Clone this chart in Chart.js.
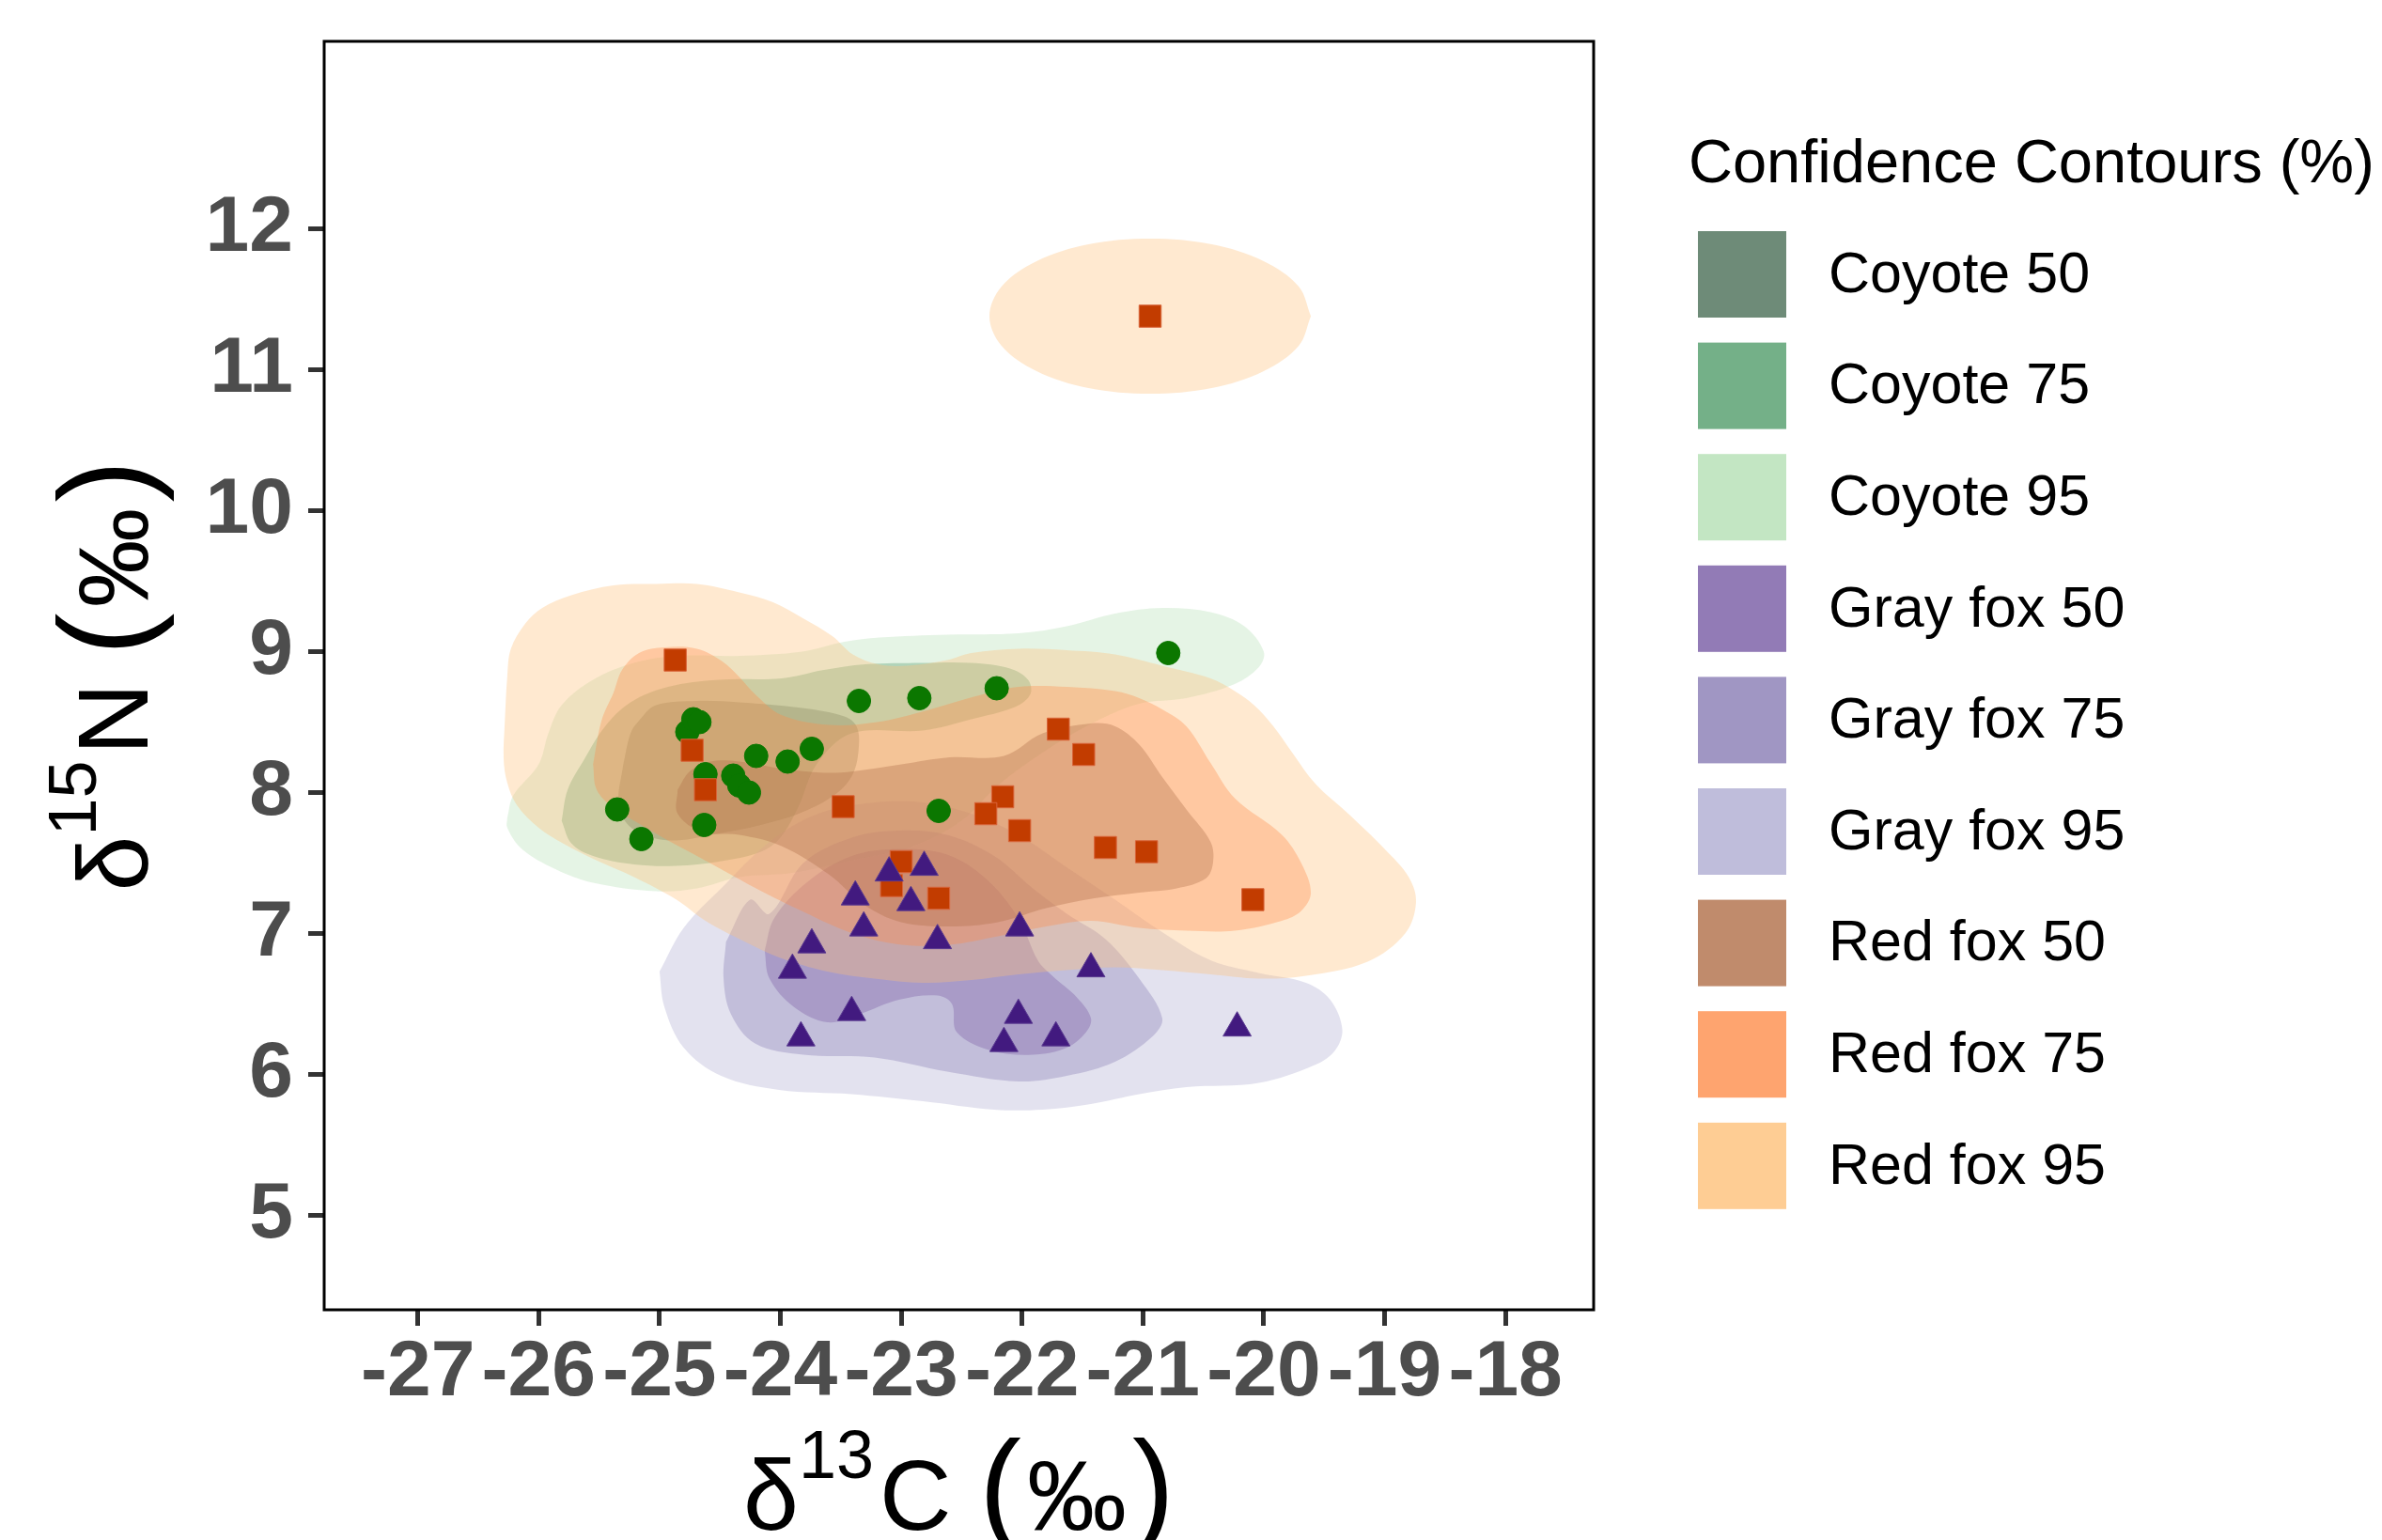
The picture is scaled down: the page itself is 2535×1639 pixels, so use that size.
<!DOCTYPE html>
<html><head><meta charset="utf-8">
<script src="https://cdn.jsdelivr.net/npm/chart.js@4/dist/chart.umd.min.js"></script>
<style>html,body{margin:0;padding:0;background:#fff;}#wrap{width:2535px;height:1639px;}</style>
</head><body><div id="wrap"><canvas id="c" width="2535" height="1639"></canvas></div>
<script>
const xTicks = [-27,-26,-25,-24,-23,-22,-21,-20,-19,-18];
const yTicks = [5,6,7,8,9,10,11,12];

const coyoteX = [-25.35,-25.15,-24.63,-24.77,-24.72,-24.67,-24.62,-24.39,-24.34,-24.26,-24.20,-23.94,-23.74,-23.35,-22.85,-22.69,-22.21,-20.79];
const coyoteY = [7.88,7.67,7.77,8.43,8.52,8.50,8.13,8.12,8.05,8.00,8.26,8.22,8.31,8.65,8.67,7.87,8.74,8.99];
const redX = [-24.87,-24.73,-24.62,-23.48,-23.00,-23.08,-22.69,-22.16,-22.30,-22.02,-21.70,-21.49,-21.31,-20.97,-20.09,-20.94];
const redY = [8.94,8.30,8.02,7.90,7.51,7.34,7.25,7.97,7.85,7.73,8.45,8.27,7.61,7.58,7.24,11.38];
const grayX = [-23.10,-22.81,-23.38,-22.92,-23.31,-22.70,-23.74,-23.90,-22.02,-21.43,-23.41,-23.83,-22.03,-21.72,-22.15,-20.22];
const grayY = [7.43,7.47,7.26,7.22,7.04,6.95,6.92,6.74,7.04,6.75,6.44,6.26,6.42,6.26,6.22,6.33];

const coyote95 = [[-26.26,7.82],[-26.21,7.98],[-26.00,8.20],[-25.92,8.42],[-25.81,8.62],[-25.55,8.80],[-25.21,8.92],[-24.86,8.97],[-24.34,8.97],[-23.82,9.00],[-23.47,9.07],[-23.18,9.10],[-22.62,9.12],[-22.03,9.13],[-21.63,9.18],[-21.23,9.27],[-20.84,9.31],[-20.44,9.28],[-20.16,9.18],[-20.00,9.00],[-20.04,8.89],[-20.24,8.77],[-20.64,8.67],[-21.03,8.63],[-21.40,8.50],[-21.80,8.30],[-22.20,8.05],[-22.50,7.80],[-22.90,7.62],[-23.40,7.52],[-23.90,7.43],[-24.34,7.40],[-24.69,7.32],[-25.03,7.30],[-25.55,7.36],[-25.87,7.46],[-26.14,7.60],[-26.26,7.75],[-26.26,7.82]];
const coyote75 = [[-25.81,7.80],[-25.76,8.02],[-25.62,8.24],[-25.45,8.47],[-25.24,8.64],[-24.93,8.75],[-24.51,8.80],[-23.99,8.81],[-23.64,8.87],[-23.30,8.91],[-22.82,8.92],[-22.42,8.92],[-22.10,8.88],[-21.95,8.80],[-21.93,8.70],[-22.05,8.61],[-22.42,8.52],[-22.82,8.44],[-23.41,8.42],[-23.70,8.20],[-23.85,7.90],[-24.00,7.68],[-24.16,7.58],[-24.51,7.51],[-24.86,7.48],[-25.21,7.49],[-25.55,7.55],[-25.73,7.64],[-25.81,7.80]];
const coyote50 = [[-25.30,8.20],[-25.24,8.42],[-25.17,8.51],[-25.03,8.62],[-24.69,8.65],[-24.34,8.64],[-23.82,8.60],[-23.47,8.54],[-23.37,8.47],[-23.35,8.33],[-23.40,8.13],[-23.54,7.99],[-23.82,7.86],[-24.16,7.77],[-24.51,7.71],[-24.86,7.66],[-25.10,7.69],[-25.27,7.78],[-25.34,7.93],[-25.30,8.20]];
const gray95 = [[-25.00,6.73],[-24.80,7.04],[-24.49,7.32],[-24.09,7.65],[-23.69,7.85],[-23.22,7.93],[-22.82,7.93],[-22.42,7.85],[-22.03,7.70],[-21.63,7.47],[-21.23,7.24],[-20.84,7.01],[-20.44,6.81],[-20.04,6.72],[-19.65,6.65],[-19.45,6.53],[-19.35,6.32],[-19.41,6.17],[-19.57,6.07],[-20.04,5.94],[-20.64,5.91],[-21.03,5.86],[-21.43,5.79],[-21.83,5.75],[-22.23,5.75],[-22.82,5.81],[-23.41,5.86],[-24.01,5.89],[-24.49,5.99],[-24.80,6.19],[-24.96,6.48],[-25.00,6.73]];
const gray75 = [[-24.45,6.94],[-24.25,7.24],[-24.09,7.14],[-23.81,7.50],[-23.41,7.68],[-23.02,7.73],[-22.62,7.70],[-22.23,7.55],[-21.91,7.32],[-21.63,7.14],[-21.31,6.96],[-21.03,6.68],[-20.84,6.40],[-20.92,6.27],[-21.23,6.09],[-21.63,5.99],[-22.03,5.95],[-22.62,6.02],[-23.22,6.12],[-23.81,6.14],[-24.21,6.22],[-24.41,6.43],[-24.47,6.68],[-24.45,6.94]];
const gray50 = [[-24.13,6.88],[-24.05,7.11],[-23.77,7.37],[-23.41,7.55],[-23.02,7.60],[-22.62,7.56],[-22.30,7.39],[-22.03,7.11],[-21.87,6.81],[-21.75,6.70],[-21.55,6.55],[-21.43,6.40],[-21.47,6.30],[-21.63,6.19],[-21.91,6.14],[-22.26,6.17],[-22.54,6.30],[-22.58,6.50],[-22.70,6.56],[-23.02,6.53],[-23.34,6.43],[-23.61,6.37],[-23.89,6.48],[-24.09,6.68],[-24.13,6.88]];
const red95 = [[-26.28,8.51],[-26.26,8.82],[-26.23,9.02],[-26.11,9.20],[-25.97,9.31],[-25.73,9.40],[-25.38,9.47],[-25.03,9.48],[-24.69,9.48],[-24.34,9.42],[-24.06,9.35],[-23.82,9.24],[-23.57,9.11],[-23.40,8.98],[-23.19,8.91],[-22.95,8.90],[-22.62,8.94],[-22.42,8.99],[-22.03,9.02],[-21.63,9.01],[-21.23,8.98],[-20.84,8.90],[-20.44,8.81],[-20.24,8.72],[-20.08,8.62],[-19.92,8.47],[-19.77,8.29],[-19.57,8.06],[-19.30,7.85],[-19.00,7.60],[-18.80,7.40],[-18.74,7.22],[-18.83,7.00],[-19.14,6.80],[-19.65,6.70],[-20.04,6.68],[-20.44,6.71],[-20.84,6.74],[-21.23,6.76],[-21.63,6.74],[-22.03,6.71],[-22.42,6.67],[-22.82,6.65],[-23.22,6.68],[-23.61,6.73],[-24.01,6.83],[-24.29,6.94],[-24.62,7.09],[-24.86,7.24],[-25.21,7.40],[-25.55,7.53],[-25.80,7.64],[-26.00,7.75],[-26.18,7.91],[-26.26,8.07],[-26.29,8.24],[-26.28,8.51]];
const red95b = [[-19.61,11.38],[-19.71,11.59],[-20.00,11.77],[-20.43,11.89],[-20.94,11.93],[-21.45,11.89],[-21.88,11.77],[-22.17,11.59],[-22.27,11.38],[-22.17,11.17],[-21.88,10.99],[-21.45,10.87],[-20.94,10.83],[-20.43,10.87],[-20.00,10.99],[-19.71,11.17],[-19.61,11.38]];
const red75 = [[-25.55,8.20],[-25.48,8.51],[-25.38,8.71],[-25.31,8.87],[-25.17,8.99],[-24.96,9.03],[-24.69,9.02],[-24.48,8.93],[-24.34,8.82],[-24.20,8.69],[-23.99,8.55],[-23.60,8.48],[-23.20,8.50],[-22.80,8.58],[-22.40,8.68],[-22.03,8.75],[-21.63,8.75],[-21.23,8.72],[-21.03,8.67],[-20.84,8.59],[-20.64,8.47],[-20.44,8.21],[-20.24,7.96],[-19.85,7.70],[-19.69,7.50],[-19.61,7.29],[-19.69,7.16],[-19.85,7.09],[-20.24,7.02],[-20.64,7.02],[-21.03,7.04],[-21.43,7.09],[-21.80,7.05],[-22.20,6.98],[-22.60,6.92],[-23.00,6.92],[-23.40,7.00],[-23.80,7.15],[-24.20,7.32],[-24.69,7.55],[-24.93,7.66],[-25.17,7.78],[-25.38,7.89],[-25.52,8.02],[-25.55,8.20]];
const red50 = [[-24.85,8.02],[-24.75,8.15],[-24.58,8.22],[-24.34,8.22],[-23.99,8.17],[-23.64,8.14],[-23.40,8.15],[-23.00,8.20],[-22.60,8.25],[-22.15,8.26],[-21.83,8.42],[-21.43,8.49],[-21.23,8.47],[-21.03,8.34],[-20.84,8.11],[-20.64,7.88],[-20.44,7.65],[-20.42,7.50],[-20.48,7.39],[-20.72,7.32],[-21.03,7.29],[-21.40,7.25],[-21.80,7.18],[-22.20,7.08],[-22.60,7.05],[-23.00,7.08],[-23.30,7.20],[-23.60,7.42],[-23.99,7.62],[-24.34,7.70],[-24.65,7.72],[-24.85,7.85],[-24.85,8.02]];

const legendTitle = 'Confidence Contours (%)';
const legendLabels = ['Coyote 50','Coyote 75','Coyote 95','Gray fox 50','Gray fox 75','Gray fox 95','Red fox 50','Red fox 75','Red fox 95'];
const legendColors = ['#6e8b78','#74b088','#c3e6c3','#927bb6','#a096c3','#bfbddb','#c08b6c','#fea46f','#fecd94'];
const fillColors = ['rgba(74,110,86,0.35)','rgba(81,156,106,0.35)','rgba(180,224,180,0.35)','rgba(119,90,164,0.35)','rgba(136,124,180,0.35)','rgba(175,172,210,0.35)','rgba(176,110,71,0.35)','rgba(254,141,75,0.35)','rgba(254,192,121,0.35)'];

const FONT = "'Liberation Sans', Arial, Helvetica, sans-serif";
const toXY = a => a.map(p => ({x: p[0], y: p[1]}));
const zip = (xs, ys) => xs.map((x, i) => ({x, y: ys[i]}));

function area(label, data, colorIdx, order) {
  return {type: 'line', label, data: toXY(data), fill: 'shape', backgroundColor: fillColors[colorIdx],
    borderWidth: 0, borderColor: 'rgba(0,0,0,0)', pointRadius: 0, pointHoverRadius: 0, tension: 0.35, order};
}

const datasets = [
  area('Coyote 95', coyote95, 2, 109),
  area('Coyote 75', coyote75, 1, 108),
  area('Coyote 50', coyote50, 0, 107),
  area('Gray fox 95', gray95, 5, 106),
  area('Gray fox 75', gray75, 4, 105),
  area('Gray fox 50', gray50, 3, 104),
  area('Red fox 95', red95, 8, 103),
  area('Red fox 95 (b)', red95b, 8, 103),
  area('Red fox 75', red75, 7, 102),
  area('Red fox 50', red50, 6, 101),
  {type: 'scatter', label: 'Coyote', data: zip(coyoteX, coyoteY), pointStyle: 'circle', pointRadius: 12.5,
    backgroundColor: '#0b7700', borderColor: '#0b7700', borderWidth: 1, order: 3},
  {type: 'scatter', label: 'Red fox', data: zip(redX, redY), pointStyle: 'rect', pointRadius: 16.6,
    backgroundColor: '#c23c00', borderColor: '#d9643a', borderWidth: 1, order: 2},
  {type: 'scatter', label: 'Gray fox', data: zip(grayX, grayY), pointStyle: 'triangle', pointRadius: 17.3,
    backgroundColor: '#421a7f', borderColor: '#5a3a90', borderWidth: 1, order: 1}
];

function drawComposite(ctx, parts, cx, baseY) {
  let total = 0;
  parts.forEach(p => { ctx.font = p.size + 'px ' + FONT; p.w = ctx.measureText(p.t).width + (p.gap || 0); total += p.w; });
  let x = cx - total / 2;
  ctx.textAlign = 'left'; ctx.textBaseline = 'alphabetic'; ctx.fillStyle = '#000';
  parts.forEach(p => { ctx.font = p.size + 'px ' + FONT; ctx.fillText(p.t, x, baseY - (p.raise || 0)); x += p.w; });
}

const decorations = {
  id: 'decorations',
  afterDatasetsDraw(chart) {
    const {ctx, chartArea: a} = chart;
    ctx.save();
    ctx.strokeStyle = '#000'; ctx.lineWidth = 3;
    ctx.strokeRect(a.left, a.top, a.right - a.left, a.bottom - a.top);
    ctx.restore();
  },
  afterDraw(chart) {
    const {ctx, chartArea: a} = chart;
    ctx.save();
    const cx = (a.left + a.right) / 2;
    drawComposite(ctx, [
      {t: 'δ', size: 106}, {t: '13', size: 72, raise: 55, gap: 6}, {t: 'C', size: 106}, {t: ' ', size: 106},
      {t: '(', size: 135, gap: 6}, {t: '‰', size: 106, gap: 6}, {t: ')', size: 135}], cx, 1628);
    ctx.save();
    ctx.translate(157, (a.top + a.bottom) / 2);
    ctx.rotate(-Math.PI / 2);
    drawComposite(ctx, [
      {t: 'δ', size: 106}, {t: '15', size: 72, raise: 55, gap: 6}, {t: 'N', size: 106}, {t: ' ', size: 106},
      {t: '(', size: 135, gap: 6}, {t: '‰', size: 106, gap: 6}, {t: ')', size: 135}], 0, 0);
    ctx.restore();
    // legend
    ctx.fillStyle = '#000';
    ctx.textAlign = 'left'; ctx.textBaseline = 'alphabetic';
    ctx.font = '65px ' + FONT;
    ctx.fillText(legendTitle, 1797, 194);
    ctx.font = '61px ' + FONT;
    ctx.textBaseline = 'middle';
    legendLabels.forEach((lab, i) => {
      const top = 246 + i * 118.6;
      ctx.fillStyle = legendColors[i];
      ctx.fillRect(1807, top, 94, 92);
      ctx.fillStyle = '#000';
      ctx.fillText(lab, 1946, top + 48);
    });
    ctx.restore();
  }
};

Chart.defaults.font.family = FONT;
new Chart(document.getElementById('c'), {
  type: 'scatter',
  data: {datasets},
  options: {
    responsive: false, animation: false, devicePixelRatio: 1,
    layout: {padding: {left: 0, top: 44, right: 839, bottom: 0}},
    plugins: {legend: {display: false}, tooltip: {enabled: false}},
    scales: {
      x: {type: 'linear', position: 'bottom', min: -27.775, max: -17.27,
        afterBuildTicks: s => { s.ticks = xTicks.map(v => ({value: v})); },
        afterFit: s => { s.height = 245; s.paddingLeft = 0; s.paddingRight = 0; },
        grid: {display: true, drawOnChartArea: false, drawTicks: true, tickLength: 17, tickWidth: 5, tickColor: '#333333'},
        border: {display: false},
        ticks: {padding: 9, color: '#4d4d4d', font: {size: 84, weight: 'bold', lineHeight: 1}, callback: v => String(v)}},
      y: {type: 'linear', position: 'left', min: 4.33, max: 13.33,
        afterBuildTicks: s => { s.ticks = yTicks.map(v => ({value: v})); },
        afterFit: s => { s.width = 345; s.paddingTop = 0; s.paddingBottom = 0; },
        grid: {display: true, drawOnChartArea: false, drawTicks: true, tickLength: 17, tickWidth: 5, tickColor: '#333333'},
        border: {display: false},
        ticks: {padding: 16, color: '#4d4d4d', font: {size: 84, weight: 'bold', lineHeight: 1}, callback: v => String(v)}}
    }
  },
  plugins: [decorations]
});
</script></body></html>
